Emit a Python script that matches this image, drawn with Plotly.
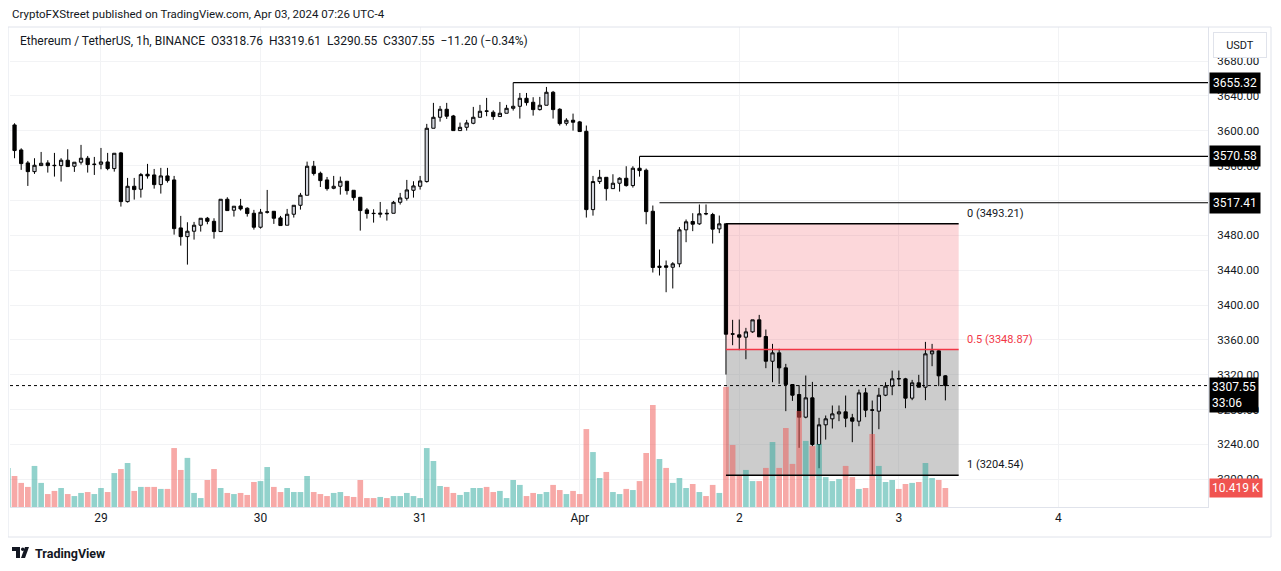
import pandas as pd
import plotly.graph_objects as go

# hourly ETH/USDT candles, Mar 28 10:00 -> Apr 03 07:00
opens = [3581.8, 3606.7, 3578.0, 3563.1, 3553.1, 3560.0, 3563.1, 3560.4, 3560.0, 3566.2, 3559.3, 3563.9,
         3568.5, 3561.2, 3561.6, 3564.2, 3556.6, 3574.6, 3518.7, 3536.3, 3532.9, 3550.1, 3549.3, 3538.2,
         3548.2, 3543.6, 3488.5, 3478.5, 3484.7, 3491.6, 3499.6, 3496.1, 3484.3, 3521.4, 3508.8, 3513.7,
         3511.1, 3505.3, 3489.3, 3506.5, 3507.6, 3500.0, 3491.6, 3504.2, 3514.5, 3526.0, 3559.3, 3551.2,
         3543.6, 3534.0, 3536.3, 3542.1, 3531.7, 3523.7, 3509.2, 3505.3, 3504.2, 3505.3, 3505.3, 3517.9,
         3522.5, 3531.7, 3536.3, 3541.7, 3602.9, 3615.5, 3624.7, 3617.0, 3600.2, 3604.0, 3608.6, 3615.5,
         3622.8, 3621.3, 3616.3, 3620.1, 3625.8, 3628.1, 3637.3, 3632.7, 3624.3, 3629.3, 3644.2, 3624.7,
         3608.6, 3612.1, 3610.2, 3599.4, 3509.5, 3541.7, 3546.6, 3533.6, 3539.8, 3545.5, 3537.1, 3557.0,
         3554.7, 3507.6, 3443.1, 3445.0, 3443.4, 3447.3, 3486.3, 3495.9, 3493.2, 3505.0, 3503.9, 3487.4,
         3493.21, 3367.0, 3365.8, 3363.1, 3369.2, 3383.0, 3363.9, 3335.5, 3345.1, 3327.9, 3308.8, 3297.3,
         3271.3, 3293.5, 3239.9, 3262.5, 3269.4, 3275.1, 3277.4, 3270.5, 3266.7, 3299.2, 3279.7, 3278.2,
         3296.5, 3306.9, 3315.6, 3315.3, 3293.1, 3310.7, 3305.7, 3344.0, 3347.4, 3318.76]
highs = [3609.0, 3608.6, 3579.9, 3565.4, 3568.5, 3575.7, 3566.2, 3574.6, 3568.5, 3578.8, 3563.9, 3583.8,
         3571.1, 3570.0, 3580.3, 3574.6, 3574.2, 3575.7, 3545.9, 3545.9, 3551.6, 3562.0, 3556.2, 3557.4,
         3557.4, 3548.2, 3502.3, 3495.0, 3495.4, 3499.6, 3501.1, 3499.6, 3521.4, 3523.7, 3513.4, 3521.8,
         3512.2, 3509.2, 3510.3, 3532.1, 3507.6, 3502.3, 3510.3, 3514.5, 3528.7, 3564.6, 3565.4, 3553.1,
         3547.0, 3548.2, 3547.4, 3542.1, 3531.7, 3523.7, 3511.4, 3509.9, 3518.3, 3509.9, 3519.5, 3528.7,
         3543.6, 3542.1, 3548.2, 3607.9, 3632.0, 3628.5, 3632.0, 3618.2, 3609.4, 3612.5, 3627.4, 3629.7,
         3637.7, 3623.5, 3633.1, 3629.7, 3655.32, 3643.4, 3643.4, 3638.5, 3638.9, 3650.3, 3645.7, 3625.8,
         3614.4, 3619.7, 3611.3, 3606.0, 3548.2, 3555.1, 3546.6, 3550.1, 3546.6, 3559.3, 3559.3, 3570.58,
         3556.6, 3514.2, 3463.7, 3451.1, 3449.2, 3489.4, 3498.2, 3505.4, 3515.4, 3515.4, 3505.8, 3502.7,
         3493.21, 3383.0, 3383.4, 3373.8, 3383.0, 3388.7, 3371.9, 3355.4, 3349.7, 3332.5, 3308.8, 3308.0,
         3319.1, 3311.8, 3270.5, 3273.2, 3284.7, 3284.7, 3296.1, 3275.1, 3303.0, 3304.9, 3290.4, 3304.9,
         3311.4, 3324.8, 3324.8, 3316.4, 3314.1, 3319.9, 3357.7, 3355.4, 3348.6, 3319.61]
lows = [3578.0, 3568.5, 3555.1, 3536.7, 3550.5, 3559.7, 3552.0, 3547.4, 3541.7, 3558.9, 3552.8, 3561.2,
        3552.0, 3549.3, 3555.8, 3554.7, 3553.1, 3513.0, 3517.6, 3521.0, 3523.3, 3545.1, 3533.6, 3527.9,
        3540.5, 3480.8, 3468.2, 3446.4, 3475.1, 3484.3, 3492.7, 3476.2, 3484.3, 3508.4, 3501.5, 3508.4,
        3501.5, 3486.6, 3487.7, 3505.0, 3493.1, 3491.2, 3491.6, 3500.4, 3509.5, 3526.0, 3548.6, 3535.5,
        3531.3, 3532.9, 3526.7, 3526.7, 3519.9, 3485.4, 3499.2, 3494.6, 3500.4, 3496.9, 3505.3, 3515.3,
        3519.9, 3523.3, 3532.5, 3540.5, 3602.9, 3610.5, 3613.6, 3600.2, 3600.2, 3600.2, 3607.5, 3615.5,
        3616.7, 3612.5, 3616.3, 3620.1, 3623.2, 3614.0, 3628.9, 3617.4, 3623.2, 3629.3, 3614.0, 3606.0,
        3606.0, 3600.2, 3599.1, 3500.4, 3502.6, 3539.0, 3519.9, 3533.6, 3530.2, 3535.9, 3534.8, 3547.4,
        3492.7, 3437.3, 3433.9, 3414.7, 3419.0, 3443.4, 3472.1, 3484.8, 3492.0, 3503.1, 3470.6, 3482.5,
        3320.2, 3353.9, 3348.2, 3337.8, 3368.1, 3363.5, 3327.5, 3311.4, 3309.5, 3278.2, 3290.0, 3236.1,
        3270.0, 3238.0, 3212.7, 3245.6, 3258.3, 3266.7, 3259.8, 3242.6, 3260.9, 3271.3, 3204.54, 3257.5,
        3295.4, 3296.5, 3306.9, 3281.6, 3290.8, 3305.7, 3290.8, 3329.8, 3306.9, 3290.55]
closes = [3606.7, 3577.3, 3562.3, 3553.1, 3560.4, 3562.7, 3560.0, 3560.0, 3566.2, 3558.9, 3563.9, 3568.5,
          3561.2, 3561.6, 3564.2, 3556.6, 3574.2, 3518.7, 3536.3, 3532.5, 3549.7, 3548.2, 3538.2, 3548.2,
          3542.8, 3487.7, 3478.5, 3484.7, 3491.6, 3499.6, 3496.1, 3484.3, 3521.4, 3508.4, 3513.4, 3510.3,
          3505.0, 3489.3, 3506.5, 3506.9, 3499.6, 3491.2, 3504.2, 3514.5, 3526.0, 3559.3, 3550.9, 3542.8,
          3533.6, 3536.3, 3542.1, 3531.3, 3523.3, 3508.4, 3505.0, 3505.0, 3505.3, 3504.8, 3517.9, 3522.9,
          3532.1, 3536.7, 3542.4, 3602.9, 3615.5, 3624.7, 3616.7, 3600.2, 3604.0, 3609.0, 3615.5, 3622.4,
          3622.4, 3616.3, 3620.1, 3625.8, 3628.1, 3637.3, 3632.3, 3624.3, 3629.3, 3644.2, 3624.3, 3608.2,
          3612.1, 3609.8, 3599.1, 3509.5, 3541.7, 3546.6, 3533.6, 3539.8, 3545.5, 3537.1, 3557.0, 3554.3,
          3507.2, 3443.1, 3444.6, 3443.4, 3447.3, 3486.3, 3495.5, 3492.8, 3504.7, 3504.7, 3487.1, 3493.2,
          3366.5, 3366.6, 3363.1, 3369.2, 3383.0, 3363.5, 3335.5, 3345.1, 3327.9, 3308.8, 3296.5, 3271.3,
          3293.5, 3239.9, 3262.5, 3269.4, 3275.1, 3277.4, 3270.1, 3266.7, 3299.2, 3279.3, 3279.3, 3296.5,
          3306.9, 3315.3, 3315.3, 3293.1, 3310.7, 3305.7, 3344.0, 3347.4, 3318.76, 3307.55]
# volume in thousands ETH
volumes = [21.4, 17.0, 13.2, 11.0, 22.5, 13.2, 7.1, 8.8, 10.4, 7.1, 6.0, 7.7, 8.2, 7.1, 10.4, 8.2, 18.6,
           20.8, 24.1, 8.8, 11.0, 11.0, 11.0, 9.9, 9.9, 32.3, 20.3, 26.9, 7.7, 4.9, 14.8, 20.8, 10.4, 7.7,
           7.1, 7.7, 6.6, 13.7, 14.2, 21.9, 11.0, 8.2, 10.4, 8.2, 8.2, 17.0, 8.2, 7.1, 6.0, 7.7, 8.2, 6.0,
           5.5, 14.8, 4.9, 4.9, 5.5, 4.9, 6.0, 6.0, 7.7, 6.0, 4.9, 32.3, 25.2, 11.5, 11.0, 7.7, 6.6, 8.2,
           10.4, 10.4, 11.0, 8.2, 8.8, 4.9, 14.8, 12.1, 6.0, 7.7, 7.1, 8.2, 12.1, 9.3, 7.1, 8.8, 7.1, 42.7,
           30.1, 15.9, 19.2, 8.2, 7.1, 9.9, 9.3, 14.2, 29.6, 55.9, 26.3, 21.4, 13.2, 15.9, 10.4, 12.6, 8.2,
           6.0, 12.1, 7.7, 65.8, 34.0, 17.0, 20.3, 14.2, 14.2, 21.4, 35.6, 21.4, 43.3, 23.6, 52.6, 36.2,
           33.4, 34.5, 16.4, 14.2, 15.3, 22.5, 16.4, 9.9, 10.4, 40.0, 22.5, 13.7, 14.8, 9.9, 12.6, 13.2,
           13.7, 24.1, 15.9, 14.8, 10.419]
times = pd.date_range("2024-03-28 10:00", periods=len(opens), freq="h")

day_ticks = ["2024-03-29", "2024-03-30", "2024-03-31", "2024-04-01", "2024-04-02", "2024-04-03", "2024-04-04"]
day_labels = ["29", "30", "31", "Apr", "2", "3", "4"]
price_ticks = list(range(3200, 3681, 40))

# drawing anchors
fib_start, fib_end = "2024-04-01 22:00", "2024-04-03 09:00"
fib_levels = [0, 0.5, 1]
fib_prices = [3493.21, 3348.87, 3204.54]
hlines = [3655.32, 3570.58, 3517.41]
hline_starts = ["2024-03-31 14:00", "2024-04-01 09:00", "2024-04-01 12:00"]
last_close = 3307.55
last_volume = 10.419

x_range = ["2024-03-28 10:19", "2024-04-04 22:30"]
TXT = "#131722"
FONT = "Roboto"


# screen pixel -> paper coords (plot area spans x 10..1208, y 27..507 on screen)
def px_x(x):
    return (x - 10) / 1198


def px_y(y):
    return (507 - y) / 480


vol_colors = ["rgba(38,166,154,0.5)" if c >= o else "rgba(239,83,80,0.5)" for o, c in zip(opens, closes)]

volume_trace = go.Bar(
    x=times, y=volumes, yaxis="y2",
    marker=dict(color=vol_colors, line=dict(width=0)),
    hoverinfo="skip", showlegend=False,
)

candles = go.Candlestick(
    x=times, open=opens, high=highs, low=lows, close=closes,
    increasing=dict(line=dict(color="#000000", width=1), fillcolor="#d1d4dc"),
    decreasing=dict(line=dict(color="#000000", width=1), fillcolor="#000000"),
    showlegend=False,
)

fig = go.Figure(data=[volume_trace, candles])

shapes = []
# fib zones
shapes.append(dict(type="rect", xref="x", yref="y", x0=fib_start, x1=fib_end,
                   y0=fib_prices[1], y1=fib_prices[0], fillcolor="rgba(242,54,69,0.2)",
                   line=dict(width=0), layer="between"))
shapes.append(dict(type="rect", xref="x", yref="y", x0=fib_start, x1=fib_end,
                   y0=fib_prices[2], y1=fib_prices[1], fillcolor="rgba(128,128,128,0.4)",
                   line=dict(width=0), layer="between"))
fib_colors = ["#000000", "#f23645", "#000000"]
for p, col in zip(fib_prices, fib_colors):
    shapes.append(dict(type="line", xref="x", yref="y", x0=fib_start, x1=fib_end, y0=p, y1=p,
                       line=dict(color=col, width=1.5)))

# horizontal levels
for p, start in zip(hlines, hline_starts):
    shapes.append(dict(type="line", xref="x", yref="y", x0=start, x1=x_range[1], y0=p, y1=p,
                       line=dict(color="#000000", width=1.2)))

# last price dotted line
shapes.append(dict(type="line", xref="paper", yref="y", x0=0, x1=1, y0=last_close, y1=last_close,
                   line=dict(color="#000000", width=1, dash="dot")))

# pane border
shapes.append(dict(type="rect", xref="paper", yref="paper", x0=px_x(8), x1=px_x(1271),
                   y0=px_y(537), y1=px_y(27), line=dict(color="#e0e3eb", width=1)))

# tradingview logo (rough)
shapes.append(dict(type="path", xref="paper", yref="paper",
                   path=f"M {px_x(12)},{px_y(547)} L {px_x(20)},{px_y(547)} L {px_x(20)},{px_y(558)} "
                        f"L {px_x(16)},{px_y(558)} L {px_x(16)},{px_y(551)} L {px_x(12)},{px_y(551)} Z",
                   fillcolor="#131722", line=dict(width=0)))
shapes.append(dict(type="circle", xref="paper", yref="paper", x0=px_x(21), x1=px_x(24.5),
                   y0=px_y(551), y1=px_y(547.5), fillcolor="#131722", line=dict(width=0)))
shapes.append(dict(type="path", xref="paper", yref="paper",
                   path=f"M {px_x(25)},{px_y(547)} L {px_x(29)},{px_y(547)} L {px_x(25)},{px_y(558)} "
                        f"L {px_x(21)},{px_y(558)} Z",
                   fillcolor="#131722", line=dict(width=0)))

annotations = []
annotations.append(dict(xref="paper", yref="paper", x=px_x(10), y=px_y(14), xanchor="left", yanchor="middle",
                        text="CryptoFXStreet published on TradingView.com, Apr 03, 2024 07:26 UTC-4",
                        showarrow=False, font=dict(size=11.5, color=TXT)))
annotations.append(dict(xref="paper", yref="paper", x=px_x(18), y=px_y(41), xanchor="left", yanchor="middle",
                        text="Ethereum / TetherUS, 1h, BINANCE  O3318.76  H3319.61  L3290.55  C3307.55  "
                             "\u221211.20 (\u22120.34%)",
                        showarrow=False, font=dict(size=12, color=TXT)))
annotations.append(dict(xref="paper", yref="paper", x=px_x(33), y=px_y(553), xanchor="left", yanchor="middle",
                        text="<b>TradingView</b>", showarrow=False, font=dict(size=12.5, color=TXT)))
annotations.append(dict(xref="paper", yref="paper", x=px_x(1240), y=px_y(45), xanchor="center", yanchor="middle",
                        text="USDT", showarrow=False, font=dict(size=11, color=TXT),
                        bgcolor="#ffffff", bordercolor="#e0e3eb", borderwidth=1, width=50, height=22))

for lvl, p, col in zip(fib_levels, fib_prices, fib_colors):
    annotations.append(dict(xref="x", yref="y", x=fib_end, y=p, xanchor="left", yanchor="bottom",
                            xshift=6, yshift=2, text=f"{lvl} ({p:.2f})", showarrow=False,
                            font=dict(size=11, color="#f23645" if col != "#000000" else TXT)))

for p in hlines:
    annotations.append(dict(xref="paper", yref="y", x=1, y=p, xanchor="left", yanchor="middle", xshift=1,
                            text=f"{p:.2f}", showarrow=False, bgcolor="#000000", borderpad=3,
                            font=dict(size=12, color="#ffffff")))
annotations.append(dict(xref="paper", yref="y", x=1, y=last_close, xanchor="left", yanchor="top", xshift=1,
                        yshift=9, text=f"{last_close:.2f}<br>33:06", showarrow=False, bgcolor="#000000",
                        borderpad=2, align="left", font=dict(size=12, color="#ffffff")))
annotations.append(dict(xref="paper", yref="y2", x=1, y=last_volume, xanchor="left", yanchor="middle", xshift=1,
                        text=f"{last_volume:.3f} K", showarrow=False, bgcolor="#f05350", borderpad=2,
                        font=dict(size=12, color="#ffffff")))

# the page body adds an 8px offset; plot area lands on screen x 10..1208, y 27..507
fig.update_layout(
    width=1273, height=563,
    margin=dict(l=2, r=73, t=19, b=64),
    paper_bgcolor="#ffffff", plot_bgcolor="#ffffff",
    font=dict(family=FONT, color=TXT, size=11),
    bargap=0.15,
    showlegend=False,
    xaxis=dict(
        type="date", range=x_range, rangeslider=dict(visible=False),
        tickvals=day_ticks, ticktext=day_labels, showgrid=True, gridcolor="#f2f3f5",
        showline=True, linecolor="#e0e3eb", linewidth=1, ticks="", zeroline=False,
        tickfont=dict(size=12, color=TXT),
    ),
    yaxis=dict(
        side="right", range=[3168.2, 3719.1], tickvals=price_ticks,
        ticktext=[f"{v:.2f}" for v in price_ticks], showgrid=True, gridcolor="#f2f3f5",
        showline=True, linecolor="#e0e3eb", linewidth=1, ticks="", zeroline=False,
        ticklabelstandoff=6,
        tickfont=dict(size=11.5, color=TXT),
    ),
    yaxis2=dict(overlaying="y", range=[0, 263], visible=False),
    shapes=shapes,
    annotations=annotations,
)

fig.write_html("out.html")
